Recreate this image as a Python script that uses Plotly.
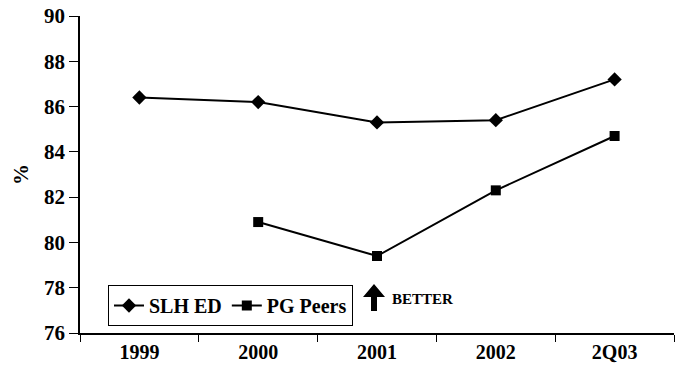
import plotly.graph_objects as go

categories = ["1999", "2000", "2001", "2002", "2Q03"]
slh_ed = [86.4, 86.2, 85.3, 85.4, 87.2]
pg_peers = [None, 80.9, 79.4, 82.3, 84.7]
y_ticks = [76, 78, 80, 82, 84, 86, 88, 90]

FONT = "Times New Roman, Liberation Serif, serif"

fig = go.Figure()
fig.add_trace(go.Scatter(
    x=categories, y=slh_ed, name="<b>SLH ED</b>", mode="lines+markers",
    line=dict(color="black", width=2),
    marker=dict(symbol="diamond", size=11, color="black"),
))
fig.add_trace(go.Scatter(
    x=categories, y=pg_peers, name="<b>PG Peers</b>", mode="lines+markers",
    line=dict(color="black", width=2),
    marker=dict(symbol="square", size=10, color="black"),
))

FW, FH = 686, 369
# Plot area in window pixels: x 80..674, y 16..333
X0, X1, Y0, Y1 = 80, 674, 16, 333
L, R, T, B = X0, FW - X1, Y0, FH - Y1
W, H = X1 - X0, Y1 - Y0

def px(x):
    return (x - X0) / W

def py(y):
    return (Y1 - y) / H

# up arrow "BETTER"
cx = 374
arrow = (
    f"M {px(cx-3)} {py(311)} L {px(cx-3)} {py(297)} L {px(cx-11)} {py(297)} "
    f"L {px(cx)} {py(284)} L {px(cx+11)} {py(297)} L {px(cx+3)} {py(297)} "
    f"L {px(cx+3)} {py(311)} Z"
)
fig.add_shape(type="path", path=arrow, xref="paper", yref="paper",
              fillcolor="black", line=dict(color="black", width=0))
fig.add_annotation(x=px(390), y=py(299), xref="paper", yref="paper",
                   text="<b>BETTER</b>", showarrow=False, xanchor="left",
                   yanchor="middle", font=dict(family=FONT, size=15, color="black"))

fig.update_layout(
    width=FW, height=FH,
    margin=dict(l=L, r=R, t=T, b=B),
    paper_bgcolor="white", plot_bgcolor="white",
    font=dict(family=FONT, color="black"),
    showlegend=True,
    legend=dict(
        orientation="h", x=px(108), y=py(285), xanchor="left", yanchor="top",
        bordercolor="black", borderwidth=1, bgcolor="white",
        font=dict(family=FONT, size=20, color="black"),
        itemwidth=30, tracegroupgap=0,
    ),
    xaxis=dict(
        type="category", range=[-0.5, 4.5], automargin=False,
        showline=True, linecolor="black", linewidth=1.5,
        ticks="outside", tickson="boundaries", ticklen=7, tickcolor="black",
        tickfont=dict(family=FONT, size=20, color="black"),
        tickprefix="<b>", ticksuffix="</b>",
        showgrid=False, zeroline=False,
    ),
    yaxis=dict(
        range=[76, 90], tickvals=y_ticks, automargin=False,
        ticktext=[f"<b>{v}</b>" for v in y_ticks],
        showline=True, linecolor="black", linewidth=1.5,
        ticks="outside", ticklen=9, tickcolor="black",
        tickfont=dict(family=FONT, size=21, color="black"),
        showgrid=False, zeroline=False,
        title=dict(text="<b>%</b>", font=dict(family=FONT, size=21, color="black"), standoff=10),
    ),
)

fig.write_html(
    "out.html",
    config={"displayModeBar": False},
    post_script="document.body.style.margin='0';document.body.style.overflow='hidden';",
)
